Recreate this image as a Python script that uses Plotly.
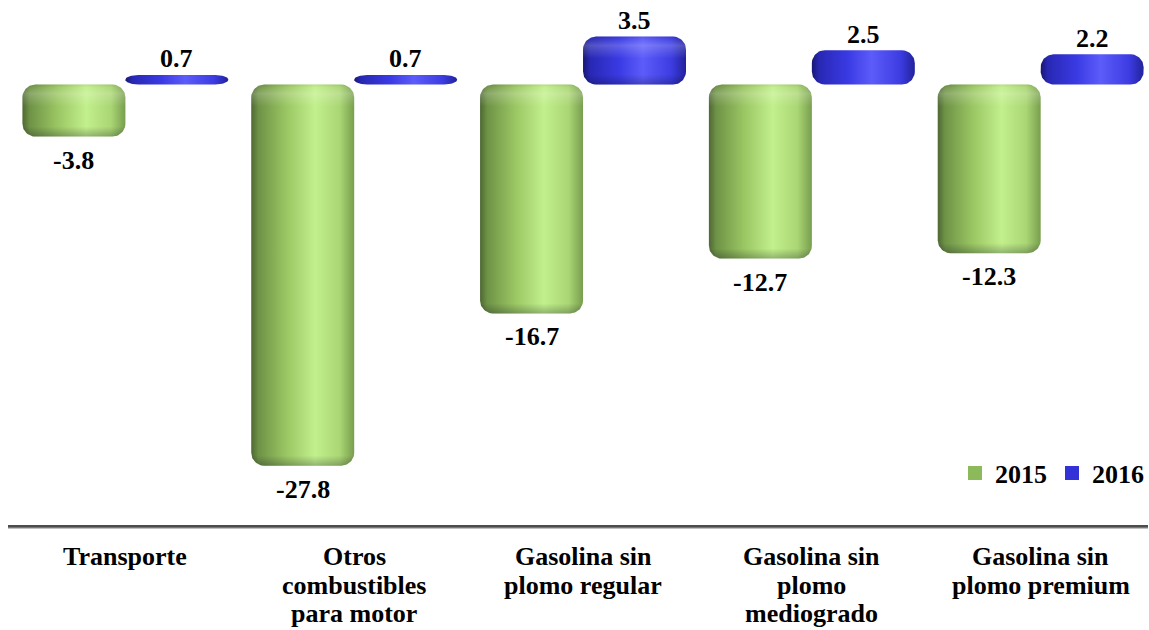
import numpy as np
import plotly.graph_objects as go

# ---- data -------------------------------------------------------------
categories = [
    "Transporte",
    "Otros<br>combustibles<br>para motor",
    "Gasolina sin<br>plomo regular",
    "Gasolina sin<br>plomo<br>mediogrado",
    "Gasolina sin<br>plomo premium",
]
series_names = ["2015", "2016"]
values_2015 = [-3.8, -27.8, -16.7, -12.7, -12.3]
values_2016 = [0.7, 0.7, 3.5, 2.5, 2.2]

# ---- layout constants ---------------------------------------------------
W, H = 1149, 630
M_L, M_R, M_T, M_B = 8, 0, 15, 105
X_RANGE = [-0.513, 4.469]
Y_RANGE = [-32.13, 5.07]
BAR_W = 0.45
FONT = "Liberation Serif"

px_per_x = (W - M_L - M_R) / (X_RANGE[1] - X_RANGE[0])
px_per_y = (H - M_T - M_B) / (Y_RANGE[1] - Y_RANGE[0])

GREEN_H = [[0.0, "rgb(78,104,52)"], [0.07, "rgb(110,146,70)"],
           [0.35, "rgb(156,200,100)"], [0.62, "rgb(194,240,140)"],
           [0.86, "rgb(170,214,116)"], [1.0, "rgb(120,158,78)"]]
BLUE_H = [[0.0, "rgb(24,24,115)"], [0.07, "rgb(40,40,180)"],
          [0.35, "rgb(58,58,228)"], [0.58, "rgb(92,92,250)"],
          [0.86, "rgb(60,60,226)"], [1.0, "rgb(34,34,155)"]]
SERIES_STYLE = {
    "2015": dict(scale=GREEN_H, swatch="rgb(140,185,90)", offset=-BAR_W / 2),
    "2016": dict(scale=BLUE_H, swatch="rgb(50,50,215)", offset=BAR_W / 2),
}


def capsule(x0, x1, y0, y1, r_px=13):
    """Rounded-rectangle outline in data units (rounded at both ends)."""
    lo, hi = min(y0, y1), max(y0, y1)
    rx = min(r_px / px_per_x, (x1 - x0) / 2)
    ry = min(r_px / px_per_y, (hi - lo) / 2)
    t = np.linspace(0, np.pi / 2, 18)
    xs, ys = [], []
    for cx, cy, a0 in [(x1 - rx, hi - ry, 0.0), (x0 + rx, hi - ry, np.pi / 2),
                       (x0 + rx, lo + ry, np.pi), (x1 - rx, lo + ry, 1.5 * np.pi)]:
        a = a0 + t
        xs += list(cx + rx * np.cos(a))
        ys += list(cy + ry * np.sin(a))
    xs.append(xs[0])
    ys.append(ys[0])
    return xs, ys


def shade_scale(height_px):
    """Vertical overlay: darker base, light rim just under the top cap."""
    px = [0, 10, height_px - 22, height_px - 9, height_px - 3, height_px]
    cols = ["rgba(0,0,30,0.25)", "rgba(0,0,30,0.0)", "rgba(255,255,255,0.0)",
            "rgba(255,255,255,0.20)", "rgba(255,255,255,0.05)", "rgba(0,0,0,0.08)"]
    pos = np.maximum.accumulate(np.clip(np.array(px) / height_px, 0, 1))
    return [[float(p), c] for p, c in zip(pos, cols)]


fig = go.Figure()
annotations = []
label_font = dict(family=FONT, size=26, color="black", weight="bold")

for name, vals in zip(series_names, [values_2015, values_2016]):
    st = SERIES_STYLE[name]
    for i, v in enumerate(vals):
        xc = i + st["offset"]
        x0, x1 = xc - BAR_W / 2, xc + BAR_W / 2
        xs, ys = capsule(x0, x1, 0, v)
        fig.add_trace(go.Scatter(
            x=xs, y=ys, mode="lines", fill="toself", line=dict(width=0),
            fillgradient=dict(type="horizontal", colorscale=st["scale"],
                              start=x0, stop=x1),
            showlegend=False, hoverinfo="skip"))
        h_px = abs(v) * px_per_y
        if h_px > 40:
            lo, hi = min(0, v), max(0, v)
            fig.add_trace(go.Scatter(
                x=xs, y=ys, mode="lines", fill="toself", line=dict(width=0),
                fillgradient=dict(type="vertical", colorscale=shade_scale(h_px),
                                  start=lo, stop=hi),
                showlegend=False, hoverinfo="skip"))
        annotations.append(dict(
            x=xc, y=v, xref="x", yref="y", text=f"{v:.1f}", showarrow=False,
            yanchor="middle", yshift=16 if v > 0 else -23.5, font=label_font))

# legend swatches
for name in series_names:
    fig.add_trace(go.Scatter(
        x=[None], y=[None], mode="markers", name=name,
        marker=dict(symbol="square", size=14, color=SERIES_STYLE[name]["swatch"],
                    line=dict(width=0))))

# category labels, one annotation per text line
line_shifts = [-31.8, -60.3, -88.8]
for i, cat in enumerate(categories):
    for k, part in enumerate(cat.split("<br>")):
        annotations.append(dict(
            x=i, y=0, xref="x", yref="paper", text=part, showarrow=False,
            yanchor="middle", yshift=line_shifts[k], font=label_font))

fig.update_layout(
    width=W, height=H,
    margin=dict(l=M_L, r=M_R, t=M_T, b=M_B, pad=0),
    paper_bgcolor="white", plot_bgcolor="white",
    font=dict(family=FONT),
    xaxis=dict(range=X_RANGE, showgrid=False, zeroline=False,
               showticklabels=False, ticks="", showline=True,
               linecolor="#4d4d4d", linewidth=3, fixedrange=True),
    yaxis=dict(range=Y_RANGE, visible=False, fixedrange=True),
    legend=dict(orientation="h", x=0.831, xanchor="left", y=0.102,
                yanchor="middle", bgcolor="rgba(0,0,0,0)",
                font=label_font, itemwidth=30, tracegroupgap=0),
    annotations=annotations,
    shapes=[dict(type="rect", xref="paper", yref="paper", x0=0, x1=1,
                 ysizemode="pixel", yanchor=0, y0=-2, y1=-4,
                 fillcolor="rgba(150,150,150,0.6)", line=dict(width=0))],
    showlegend=True,
)

fig.write_html("out.html")
